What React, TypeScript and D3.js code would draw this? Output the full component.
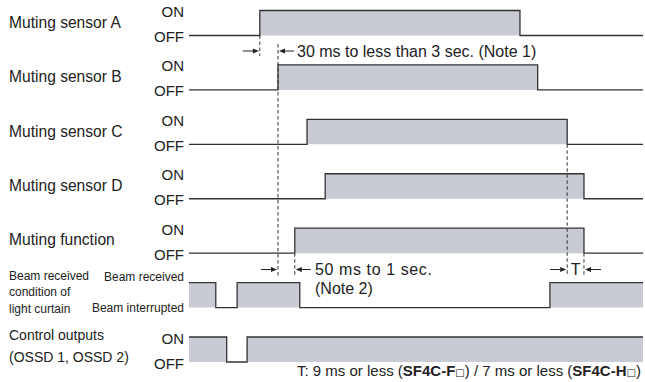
import React from "react";
import * as d3 from "d3";

const rowLabels = [
  ["Muting sensor A"],
  ["Muting sensor B"],
  ["Muting sensor C"],
  ["Muting sensor D"],
  ["Muting function"],
  ["Beam received", "condition of", "light curtain"],
  ["Control outputs", "(OSSD 1, OSSD 2)"],
];
const stateLabels = [
  ["ON", "OFF"],
  ["ON", "OFF"],
  ["ON", "OFF"],
  ["ON", "OFF"],
  ["ON", "OFF"],
  ["Beam received", "Beam interrupted"],
  ["ON", "OFF"],
];
const initialStates = [0, 0, 0, 0, 0, 1, 1];
const transitions = [
  [15.6, 72.9],
  [19.6, 76.8],
  [26.0, 83.3],
  [30.0, 87.0],
  [23.3, 87.0],
  [5.9, 10.6, 24.4, 79.5],
  [8.3, 12.8],
];
const note1 = "30 ms to less than 3 sec. (Note 1)";
const note2 = ["50 ms to 1 sec.", "(Note 2)"];
const noteT = "T";
const footer = ["T: 9 ms or less (", "SF4C-F", "□", ") / 7 ms or less (", "SF4C-H", "□", ")"];

const W = 645;
const H = 382;
const FONT = "'Liberation Sans', Arial, Helvetica, sans-serif";
const FILL = "#c9cbd4";
const STROKE = "#333";

const x = d3.scaleLinear().domain([0, 100]).range([189, 643]);
const rowTop = d3.scaleLinear().domain([0, 6]).range([10.5, 337]);
const ROWH = 25;

function signalPoints(i: number) {
  const pts: [number, number][] = [];
  let s = initialStates[i];
  pts.push([0, s]);
  for (const t of transitions[i]) {
    s = 1 - s;
    pts.push([t, s]);
  }
  pts.push([100, s]);
  return pts;
}

function Arrow({ x1, x2, y }: { x1: number; x2: number; y: number }) {
  const dir = Math.sign(x2 - x1);
  const hl = 6;
  const hw = 2.6;
  return (
    <g>
      <line x1={x1} x2={x2 - dir * hl} y1={y} y2={y} stroke="#222" strokeWidth={1} />
      <path d={`M${x2},${y} L${x2 - dir * hl},${y - hw} L${x2 - dir * hl},${y + hw} Z`} fill="#222" />
    </g>
  );
}

export default function App() {
  const line = d3
    .line<[number, number]>()
    .x((d) => x(d[0]))
    .curve(d3.curveStepAfter);

  return (
    <svg width={W} height={H} style={{ position: "absolute", left: 0, top: 0 }} fontFamily={FONT}>
      <rect width={W} height={H} fill="#fff" />
      {rowLabels.map((lbls, i) => {
        const top = rowTop(i);
        const bot = top + ROWH;
        const pts = signalPoints(i);
        const yv = (d: [number, number]) => (d[1] ? top : bot);
        const area = d3
          .area<[number, number]>()
          .x((d) => x(d[0]))
          .y0(bot)
          .y1((d) => (d[1] ? top : bot))
          .curve(d3.curveStepAfter);
        const isBeam = i === 5;
        const isCtrl = i === 6;
        return (
          <g key={i}>
            <path d={area(pts) || ""} fill={FILL} />
            <path d={line.y(yv)(pts) || ""} fill="none" stroke={STROKE} strokeWidth={1.3} />
            {i < 5 &&
              lbls.map((l, k) => (
                <text key={k} x={9} y={top + 17.2} fontSize={15.6} fill="#222">
                  {l}
                </text>
              ))}
            {isBeam &&
              lbls.map((l, k) => (
                <text key={k} x={9} y={top - 2.7 + k * 16.5} fontSize={12} fill="#222">
                  {l}
                </text>
              ))}
            {isCtrl &&
              lbls.map((l, k) => (
                <text key={k} x={9} y={top + 3 + k * 22} fontSize={14} fill="#222">
                  {l}
                </text>
              ))}
            {isBeam ? (
              <>
                <text x={184} y={top - 1.7} fontSize={12} textAnchor="end" fill="#222">
                  {stateLabels[i][0]}
                </text>
                <text x={184} y={top + 29.5} fontSize={12} textAnchor="end" fill="#222">
                  {stateLabels[i][1]}
                </text>
              </>
            ) : (
              <>
                <text x={184} y={top + 6.5} fontSize={15} textAnchor="end" fill="#222">
                  {stateLabels[i][0]}
                </text>
                <text x={184} y={top + 31.5} fontSize={15} textAnchor="end" fill="#222">
                  {stateLabels[i][1]}
                </text>
              </>
            )}
          </g>
        );
      })}

      {/* dashed guides */}
      {[
        { t: transitions[0][0], y1: rowTop(0) + ROWH, y2: 56 },
        { t: transitions[1][0], y1: 44, y2: 276 },
        { t: transitions[4][0], y1: rowTop(4) + ROWH, y2: 276 },
        { t: transitions[2][1], y1: rowTop(2) + ROWH, y2: 276 },
        { t: transitions[4][1], y1: rowTop(4) + ROWH, y2: 276 },
      ].map((g, k) => (
        <line
          key={k}
          x1={x(g.t)}
          x2={x(g.t)}
          y1={g.y1}
          y2={g.y2}
          stroke="#333"
          strokeWidth={1}
          strokeDasharray="3.5,2.5"
        />
      ))}

      {/* note 1 */}
      <Arrow x1={x(transitions[0][0]) - 17} x2={x(transitions[0][0]) - 1} y={51} />
      <Arrow x1={x(transitions[1][0]) + 16} x2={x(transitions[1][0]) + 1} y={51} />
      <text x={297} y={56.5} fontSize={16} fill="#222">
        {note1}
      </text>

      {/* note 2 */}
      <Arrow x1={x(transitions[1][0]) - 17} x2={x(transitions[1][0]) - 1} y={269.5} />
      <Arrow x1={x(transitions[4][0]) + 16} x2={x(transitions[4][0]) + 1} y={269.5} />
      <text x={315} y={275} fontSize={16} letterSpacing={0.6} fill="#222">
        {note2[0]}
      </text>
      <text x={315} y={294} fontSize={16} fill="#222">
        {note2[1]}
      </text>

      {/* T */}
      <Arrow x1={x(transitions[2][1]) - 17} x2={x(transitions[2][1]) - 1} y={269.5} />
      <Arrow x1={x(transitions[4][1]) + 17} x2={x(transitions[4][1]) + 1} y={269.5} />
      <text x={(x(transitions[2][1]) + x(transitions[4][1])) / 2} y={275} fontSize={16} textAnchor="middle" fill="#222">
        {noteT}
      </text>

      {/* footer */}
      <text x={297} y={376} fontSize={15} fill="#222">
        {footer.map((s, k) =>
          s === "□" ? (
            <tspan key={k} fontSize={10} fontFamily="'DejaVu Sans', sans-serif">
              {s}
            </tspan>
          ) : (
            <tspan key={k} fontWeight={s.startsWith("SF4C") ? "bold" : "normal"}>
              {s}
            </tspan>
          )
        )}
      </text>
    </svg>
  );
}
